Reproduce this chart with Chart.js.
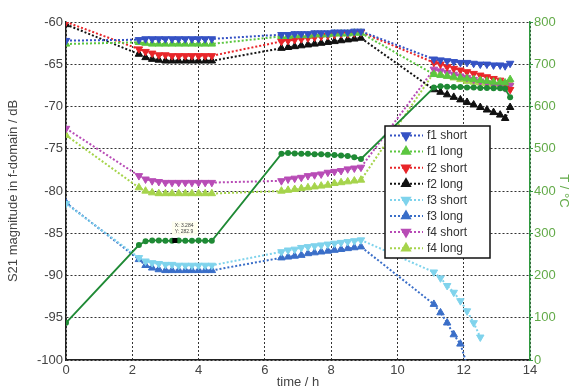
<!DOCTYPE html>
<html>
<head>
<meta charset="utf-8">
<script src="https://cdn.jsdelivr.net/npm/chart.js@4/dist/chart.umd.min.js"></script>
<style>
html, body { margin: 0; padding: 0; background: #fff; }
#wrap { width: 571px; height: 390px; position: relative; }
</style>
</head>
<body>
<div id="wrap"><canvas id="chart" width="571" height="390"></canvas></div>
<script>
// 时间轴 (h): start, plateau 1, plateau 2, plateau 3
var times = [0,
    2.2, 2.4, 2.6, 2.8, 3.0, 3.2, 3.4, 3.6, 3.8, 4.0, 4.2, 4.4,
    6.5, 6.7, 6.9, 7.1, 7.3, 7.5, 7.7, 7.9, 8.1, 8.3, 8.5, 8.7, 8.9,
    11.1, 11.3, 11.5, 11.7, 11.9, 12.1, 12.3, 12.5, 12.7, 12.9, 13.1, 13.25, 13.4];

// S21 (dB)
var f1Short = [-62.2,
    -62.1, -62.0, -62.0, -62.0, -62.0, -62.0, -62.0, -62.0, -62.0, -62.0, -62.0, -62.0,
    -61.5, -61.5, -61.4, -61.4, -61.4, -61.3, -61.3, -61.3, -61.2, -61.2, -61.2, -61.1, -61.1,
    -64.4, -64.5, -64.6, -64.7, -64.8, -64.8, -64.9, -65.0, -65.0, -65.1, -65.1, -65.2, -64.9];
var f1Long = [-62.6,
    -62.4, -62.5, -62.6, -62.6, -62.6, -62.6, -62.6, -62.6, -62.6, -62.6, -62.6, -62.6,
    -61.7, -61.7, -61.6, -61.6, -61.6, -61.5, -61.5, -61.5, -61.4, -61.4, -61.4, -61.3, -61.3,
    -66.2, -66.3, -66.4, -66.5, -66.6, -66.7, -66.8, -66.9, -67.0, -67.1, -67.1, -67.2, -66.8];
var f2Short = [-60.0,
    -63.2, -63.5, -63.7, -63.9, -63.9, -64.0, -64.0, -64.0, -64.0, -64.0, -64.0, -64.0,
    -62.3, -62.2, -62.1, -62.0, -61.9, -61.8, -61.7, -61.6, -61.5, -61.4, -61.4, -61.3, -61.2,
    -64.8, -65.0, -65.3, -65.5, -65.7, -65.9, -66.1, -66.3, -66.5, -66.7, -66.9, -67.2, -68.0];
var f2Long = [-60.3,
    -63.8, -64.2, -64.4, -64.5, -64.6, -64.6, -64.6, -64.6, -64.6, -64.6, -64.6, -64.6,
    -63.1, -63.0, -62.9, -62.8, -62.7, -62.6, -62.5, -62.4, -62.3, -62.2, -62.1, -62.0, -61.9,
    -68.0, -68.3, -68.6, -68.9, -69.2, -69.5, -69.8, -70.1, -70.4, -70.7, -71.0, -71.4, -70.1];
var f3Short = [-81.5,
    -87.9, -88.3, -88.5, -88.6, -88.7, -88.7, -88.8, -88.8, -88.8, -88.8, -88.8, -88.8,
    -87.2, -87.0, -86.9, -86.7, -86.6, -86.5, -86.4, -86.3, -86.2, -86.1, -86.0, -85.9, -85.8,
    -89.6, -90.3, -91.2, -92.0, -93.0, -94.2, -95.6, -97.3, null, null, null, null, null];
var f3Long = [-81.4,
    -88.1, -88.8, -89.1, -89.3, -89.4, -89.4, -89.4, -89.4, -89.4, -89.4, -89.4, -89.4,
    -87.9, -87.8, -87.7, -87.6, -87.4, -87.3, -87.2, -87.1, -87.0, -86.9, -86.8, -86.7, -86.6,
    -93.4, -94.4, -95.6, -97.0, -98.1, -100.6, null, null, null, null, null, null, null];
var f4Short = [-72.6,
    -78.2, -78.6, -78.8, -78.9, -79.0, -79.0, -79.0, -79.0, -79.0, -79.0, -79.0, -79.0,
    -78.8, -78.6, -78.5, -78.4, -78.2, -78.1, -78.0, -77.8, -77.7, -77.6, -77.4, -77.3, -77.2,
    -65.6, -65.8, -66.0, -66.2, -66.4, -66.6, -66.8, -67.0, -67.2, -67.4, -67.6, -67.8, -67.5];
var f4Long = [-73.4,
    -79.6, -80.0, -80.2, -80.3, -80.3, -80.3, -80.3, -80.3, -80.3, -80.3, -80.3, -80.3,
    -80.0, -79.9, -79.8, -79.7, -79.6, -79.5, -79.4, -79.3, -79.1, -79.0, -78.9, -78.8, -78.7,
    -66.0, -66.2, -66.4, -66.6, -66.8, -67.0, -67.1, -67.2, -67.3, -67.4, -67.5, -67.6, -67.2];

// 温度 (°C)
var temperature = [88,
    272, 281, 283, 283, 282, 282, 283, 282, 282, 283, 282, 282,
    488, 490, 489, 488, 488, 487, 487, 486, 485, 484, 483, 480, 476,
    645, 648, 647, 646, 646, 645, 645, 644, 644, 643, 643, 642, 622];

// 坐标轴刻度
var xTicks = [0, 2, 4, 6, 8, 10, 12, 14];
var leftRange = [-100, -60];
var rightRange = [0, 800];

// data tip
var tipX = 3.284;
var tipY = 282.9;

function toPoints(values) {
    var pts = [];
    for (var i = 0; i < times.length; i++) {
        pts.push({ x: times[i], y: values[i] });
    }
    return pts;
}

// 一个测量序列 (虚线 + 三角形)
function series(label, values, color, down) {
    return {
        label: label,
        data: toPoints(values),
        yAxisID: 'y',
        borderColor: color,
        backgroundColor: color,
        borderWidth: 2,
        borderDash: [2, 2],
        pointStyle: 'triangle',
        pointRotation: down ? 180 : 0,
        pointRadius: 4.3,
        pointBorderWidth: 1,
        pointHoverRadius: 4.3,
        spanGaps: false,
        order: 1,
        inLegend: true
    };
}

var datasets = [
    {
        label: 'T',
        data: toPoints(temperature),
        yAxisID: 'y2',
        borderColor: '#1f8a35',
        backgroundColor: '#1f8a35',
        borderWidth: 1.8,
        pointStyle: 'circle',
        pointRadius: 3,
        pointBorderWidth: 0,
        order: 0,
        inLegend: false
    },
    series('f1 short', f1Short, '#3552c4', true),
    series('f1 long', f1Long, '#5cc640', false),
    series('f2 short', f2Short, '#e8262a', true),
    series('f2 long', f2Long, '#111111', false),
    series('f3 short', f3Short, '#7fd3ec', true),
    series('f3 long', f3Long, '#3a6ec8', false),
    series('f4 short', f4Short, '#b84cb6', true),
    series('f4 long', f4Long, '#a6d44c', false)
];

// 图内图例
var boxLegend = {
    id: 'boxLegend',
    afterDraw: function(chart) {
        var ctx = chart.ctx;
        var left = 385, top = 126, w = 105, h = 132, row = 16.1;
        ctx.save();
        ctx.fillStyle = '#fff';
        ctx.fillRect(left, top, w, h);
        ctx.strokeStyle = '#111';
        ctx.lineWidth = 1.5;
        ctx.strokeRect(left, top, w, h);
        var k = 0;
        chart.data.datasets.forEach(function(ds) {
            if (!ds.inLegend) return;
            var y = top + 9.5 + k * row;
            ctx.strokeStyle = ds.borderColor;
            ctx.fillStyle = ds.borderColor;
            ctx.lineWidth = 2;
            ctx.setLineDash([2, 2]);
            ctx.beginPath();
            ctx.moveTo(left + 5, y);
            ctx.lineTo(left + 38, y);
            ctx.stroke();
            ctx.setLineDash([]);
            Chart.helpers.drawPoint(ctx, {
                pointStyle: 'triangle', radius: 4.5, rotation: ds.pointRotation, borderWidth: 1
            }, left + 21, y);
            ctx.fillStyle = '#333';
            ctx.font = '12px "Liberation Sans", Arial, sans-serif';
            ctx.textBaseline = 'middle';
            ctx.fillText(ds.label, left + 42, y + 0.5);
            k++;
        });
        ctx.restore();
    }
};

// 数据提示
var dataTip = {
    id: 'dataTip',
    afterDatasetsDraw: function(chart) {
        var ctx = chart.ctx;
        var px = chart.scales.x.getPixelForValue(tipX);
        var py = chart.scales.y2.getPixelForValue(tipY);
        ctx.save();
        ctx.fillStyle = '#000';
        ctx.fillRect(px - 2.5, py - 2.5, 5, 5);
        ctx.fillStyle = 'rgba(255,255,238,0.9)';
        ctx.fillRect(px - 3, py - 19, 26, 14);
        ctx.fillStyle = '#444';
        ctx.font = '5px "Liberation Sans", Arial, sans-serif';
        ctx.fillText('X: ' + tipX, px, py - 13);
        ctx.fillText('Y: ' + tipY, px, py - 7);
        ctx.restore();
    }
};

var tickFont = { family: '"Liberation Sans", Arial, sans-serif', size: 13 };
var titleFont = { family: '"Liberation Sans", Arial, sans-serif', size: 13 };

var config = {
    type: 'line',
    data: { datasets: datasets },
    options: {
        responsive: false,
        animation: false,
        layout: { padding: { top: 22, right: 0, left: 6, bottom: 0 } },
        plugins: {
            legend: { display: false },
            tooltip: { enabled: false }
        },
        scales: {
            x: {
                type: 'linear',
                min: 0,
                max: 14,
                afterBuildTicks: function(axis) {
                    axis.ticks = xTicks.map(function(v) { return { value: v }; });
                },
                afterFit: function(axis) { axis.height = 30; },
                // v4: border.dash 控制网格线虚线
                border: { display: true, color: '#222', width: 1.5, dash: [2, 2] },
                grid: { color: '#333', lineWidth: 1, drawTicks: false },
                ticks: { color: '#444', font: tickFont, padding: 3, maxRotation: 0 },
                title: { display: true, text: 'time / h', color: '#444', font: titleFont, padding: { top: -2, bottom: 0 } }
            },
            y: {
                position: 'left',
                min: leftRange[0],
                max: leftRange[1],
                afterFit: function(axis) { axis.width = 60; },
                border: { display: true, color: '#222', width: 1.5, dash: [2, 2] },
                grid: { color: '#333', lineWidth: 1, drawTicks: false },
                ticks: { color: '#444', font: tickFont, stepSize: 5, padding: 3 },
                title: { display: true, text: 'S21 magnitude in f-domain / dB', color: '#444', font: titleFont, padding: { top: 0, bottom: 0 } }
            },
            y2: {
                position: 'right',
                min: rightRange[0],
                max: rightRange[1],
                afterFit: function(axis) { axis.width = 41; },
                border: { display: true, color: '#2f9a3f', width: 1.5 },
                grid: { drawOnChartArea: false, color: '#2f9a3f', tickLength: 3 },
                ticks: { color: '#62aa48', font: tickFont, stepSize: 100, padding: 1 },
                title: { display: true, text: 'T / °C', color: '#62aa48', font: titleFont, padding: { top: 0, bottom: 0 } }
            }
        }
    },
    plugins: [boxLegend, dataTip]
};

var myChart = new Chart(document.getElementById('chart'), config);
</script>
</body>
</html>
